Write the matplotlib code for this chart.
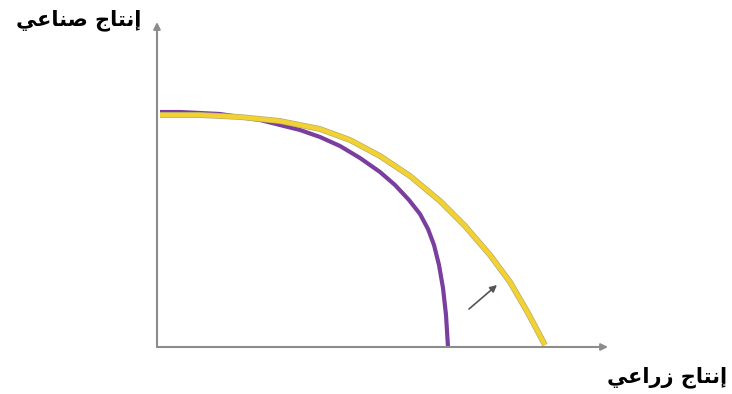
import matplotlib
matplotlib.use("Agg")
import matplotlib.pyplot as plt
import matplotlib.patheffects as pe

# axis labels (Arabic, written in presentation forms / visual order for matplotlib)
y_label = "\uFEF2\uFECB\uFE8E\uFEE8\uFEBB \uFE9D\uFE8E\uFE98\uFEE7\uFE87"   # إنتاج صناعي
x_label = "\uFEF2\uFECB\uFE8D\uFEAD\uFEAF \uFE9D\uFE8E\uFE98\uFEE7\uFE87"   # إنتاج زراعي

# original frontier (purple)
ppf1_x = [3, 23, 43, 63, 83, 103, 123, 143, 163, 183, 203, 223, 238, 252,
          263, 271, 277, 282, 286, 289, 291]
ppf1_y = [235, 235, 234, 233, 230, 227, 222, 217, 210, 201, 189, 175, 162, 147,
          133, 118, 102, 82, 59, 32, 0]

# shifted frontier (yellow)
ppf2_x = [3, 43, 83, 123, 163, 193, 223, 253, 283, 308, 333, 353, 371, 388]
ppf2_y = [232, 232, 230, 226, 218, 207, 191, 171, 146, 121, 92, 65, 34, 2]

# shift arrow
shift_from = (312, 38)
shift_to = (340, 62)

fig = plt.figure(figsize=(7.32, 3.94), dpi=100)
ax = fig.add_axes([0, 0, 1, 1])
ax.set_xlim(-157, 575)
ax.set_ylim(-47, 347)
ax.axis("off")

axis_col = "#8c8c8c"
ax.annotate("", xy=(0, 325), xytext=(0, 0),
            arrowprops=dict(arrowstyle="-|>", color=axis_col, lw=1.5,
                            mutation_scale=10, shrinkA=0, shrinkB=0))
ax.annotate("", xy=(451, 0), xytext=(0, 0),
            arrowprops=dict(arrowstyle="-|>", color=axis_col, lw=1.5,
                            mutation_scale=10, shrinkA=0, shrinkB=0))

ax.plot(ppf2_x, ppf2_y, color="#f2d232", lw=3.2, solid_capstyle="butt",
        solid_joinstyle="round", zorder=3,
        path_effects=[pe.Stroke(linewidth=4.2, foreground="#b9ab6a"), pe.Normal()])
ax.plot(ppf1_x, ppf1_y, color="#7a3e9e", lw=3.0, solid_capstyle="butt",
        solid_joinstyle="round", zorder=2)

ax.annotate("", xy=shift_to, xytext=shift_from,
            arrowprops=dict(arrowstyle="-|>", color="#555555", lw=1.2,
                            mutation_scale=10, shrinkA=0, shrinkB=0))

ax.text(-78, 327, y_label, ha="center", va="center", fontsize=15,
        fontweight="bold", family=["DejaVu Sans"])
ax.text(510, -30, x_label, ha="center", va="center", fontsize=15,
        fontweight="bold", family=["DejaVu Sans"])

fig.savefig("out.png", dpi=100)
